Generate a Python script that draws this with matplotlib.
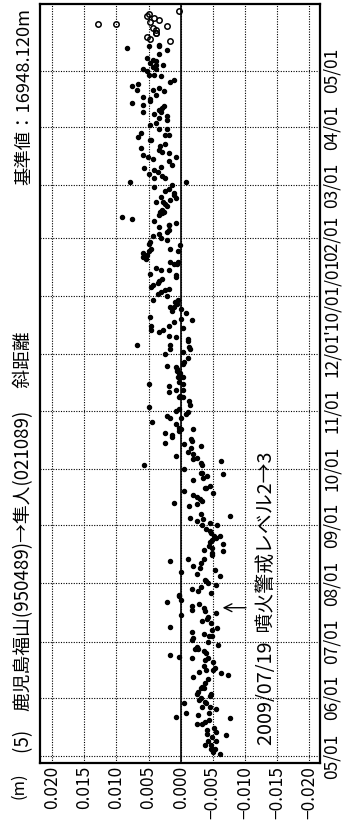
import numpy as np
import matplotlib
matplotlib.use('Agg')
import matplotlib.pyplot as plt

plt.rcParams['font.family'] = ['Noto Sans CJK JP', 'DejaVu Sans']

# daily solutions: days since 2009-05-01, baseline change in mm
days = [1, 2, 4, 4, 6, 6, 8, 8, 10, 12, 13, 11, 15, 14, 17, 17, 18, 19, 22, 23,
        25, 20, 23, 21, 28, 30, 31, 33, 34, 32, 33, 29, 28, 26, 26, 36, 36, 37, 39, 41,
        42, 45, 46, 46, 47, 50, 44, 43, 48, 52, 51, 52, 53, 54, 57, 57, 56, 55, 58, 62,
        63, 61, 64, 59, 67, 65, 64, 66, 68, 69,
        71, 72, 73, 74, 75, 76, 77, 78, 79, 80, 81, 82, 83, 85, 86, 87, 88, 89, 90, 91,
        92, 93, 94, 96, 97, 98, 99, 100, 101, 103, 104, 105, 105, 107, 108, 109, 110, 111, 112, 113,
        114, 115, 116, 117, 117, 119, 120, 121, 123, 123, 124, 125, 126, 127, 128, 129, 133, 134, 135, 136,
        137, 138, 139, 140, 141, 143, 143, 144, 147, 148, 149, 150, 151, 151, 153, 155, 155, 156, 157, 158,
        159, 160, 161, 162, 164, 165, 166, 167, 168, 169, 170, 171, 172, 173, 174, 174, 175, 177, 178, 180,
        180, 181, 182, 183, 184, 185, 186, 187, 189, 191, 191, 192, 194, 195, 195, 197, 198, 198, 199, 202,
        202, 202,
        204, 204, 205, 206, 207, 208, 209, 210, 212, 214, 215, 217, 217, 218, 219, 219, 221, 222, 223, 224,
        226, 227, 227, 228, 229, 229, 231, 232, 233, 234, 236, 237, 238, 239, 239, 241, 242, 243, 243, 245,
        246, 247, 248, 249, 250, 251, 252, 253, 254, 255, 256, 257, 259, 259, 260, 262, 262, 263, 263, 265,
        266, 267, 268, 269, 269,
        270, 270, 272, 273, 274, 275, 276, 277, 278, 279, 280, 282, 283, 283, 284, 285, 286, 287, 288, 289,
        290, 290, 291, 293, 294, 295, 295, 296, 297, 298, 299, 300, 301, 302, 303, 304, 306, 306, 308, 308,
        309, 310, 311, 312, 313, 314, 315, 317, 318, 319, 319, 320, 321, 322, 323, 324, 325, 326, 328, 328,
        330, 331, 331, 332, 334, 334, 336,
        337, 339, 340, 341, 342, 343, 343, 344, 345, 346, 347, 348, 349, 350, 351, 352, 354, 355, 355, 356,
        357, 358, 359, 360, 362, 363, 363, 365, 366, 366, 367, 368, 368, 369, 370, 371, 372, 374, 376, 377,
        378, 378, 379]
disp_mm = [-6.1, -5.1, -4.7, -5.3, -3.8, -4.7, -5.5, -4.3, -4.9, -4.1, -5.5, -7.1, -5.2, -4.1, -2.5, -3.3, -3.8, -4.4, -2.7, -4.4,
           -5.5, -7.7, -0.8, 0.7, -0.6, -2.9, -3.2, -2.6, -2.7, -4.6, -4.8, -3.8, -3.9, -3.4, -4.5, -3.1, -3.7, -3.4, -3.8, -4.3,
           -1.9, -2.8, -3.9, -5.0, -5.3, -5.1, -6.3, -7.4, -3.7, -4.2, -3.8, -1.7, 0.2, 1.7, -2.3, -2.7, -3.7, -4.0, -2.5, -1.8,
           -2.0, -4.2, -4.9, -5.8, -4.9, -3.7, -4.4, -1.7, -5.7, 1.6,
           -4.7, -3.4, -4.1, -4.3, 0.0, -5.5, -3.8, -1.7, -3.7, -1.7, -2.8, 2.1, 0.0, 0.2, 0.3, -4.7, -2.7, -1.7, -3.1, -5.5,
           -4.3, -3.9, -3.8, -6.1, -2.5, 0.0, -5.3, -3.0, -1.9, -3.2, 1.7, -3.6, -1.1, -4.9, -4.9, -6.6, -3.6, -4.9, -4.4, -6.6,
           -4.5, -4.9, -5.5, -5.2, -6.1, -4.8, -4.5, -3.9, -5.7, -3.3, -4.5, -2.5, -3.5, -1.4, -7.7, -3.1, -1.3, -2.5, 1.1, -3.4,
           -3.0, -2.5, -1.9, -5.0, -0.6, -3.8, -3.9, -4.5, -2.0, -3.5, -4.1, -6.6, -3.1, -3.3, -0.6, -3.3, 5.7, -3.1, -6.3, -1.9,
           -2.5, 0.8, -2.0, -1.2, -1.6, -3.1, -0.6, 2.4, -1.7, -1.6, 1.3, 1.3, 2.5, 0.2, 0.0, -1.9, 0.3, 0.8, 4.4, 0.0,
           1.6, 2.2, -0.8, -1.1, 0.8, 0.3, 4.9, -1.4, -1.3, 0.3, -0.3, 0.1, 1.8, 0.8, -0.3, 1.8, -0.3, 4.9, 0.2, 0.0,
           0.4, -0.4,
           0.3, 0.1, 0.5, 0.6, 0.8, 2.1, -0.3, -0.5, -1.2, 2.5, -0.3, -1.4, 1.6, -1.3, 6.8, 1.7, -1.2, -1.2, 0.8, 1.8,
           3.3, 4.6, 2.7, -0.3, 1.8, 4.6, 1.1, -1.7, 0.0, 4.8, -0.9, 1.3, 0.0, 1.1, 1.7, 0.6, 0.9, 4.3, 0.4, 2.2,
           3.6, 3.0, 2.5, 1.8, 4.6, 4.3, 3.6, 3.4, 2.9, 0.8, 0.8, 4.8, 3.0, 1.8, 3.8, 1.1, 0.6, 1.6, 0.4, 5.4,
           5.9, 5.3, 5.8, 4.9, 0.4,
           4.6, 1.6, 0.1, 5.0, 4.8, 2.1, 3.0, 4.3, 3.4, 2.1, 1.8, 3.3, 1.8, 1.8, 0.8, 4.1, 7.6, 9.2, 3.3, 2.9,
           3.2, 2.6, 2.9, 2.1, 2.5, 3.8, 2.7, 1.6, 0.8, 3.0, 1.1, 1.1, 2.4, 1.8, 4.1, 1.3, -0.8, 7.9, 4.1, 2.5,
           2.9, 5.0, 3.5, 4.1, 5.7, 3.0, 1.3, 1.8, 4.3, 5.1, 0.8, 5.9, 1.8, 2.9, 3.4, 6.2, 3.2, 2.5, 4.8, 4.6,
           6.7, 2.4, 1.8, 6.2, 3.3, 2.1, 4.8,
           3.8, 2.1, 3.4, 2.1, 4.1, 5.8, 3.0, 3.4, 2.9, 2.6, 5.9, 7.6, 4.7, 4.7, 5.8, 3.8, 2.6, 6.8, 4.3, 3.3,
           7.6, 6.6, 1.7, 1.1, 3.0, 4.9, 4.1, 5.2, 3.8, 5.9, 4.3, 2.7, 3.8, 4.7, 3.8, 4.3, 5.2, 3.4, 2.1, 8.4,
           3.4, 5.0, 3.3]

# quick solutions (open circles)
days_q = [381, 382, 383, 385, 385, 387, 388, 389, 390, 390, 391, 392, 393, 394, 395, 397]
disp_q_mm = [1.6, 4.8, 5.3, 3.8, 3.9, 3.8, 4.3, 2.1, 10.0, 12.9, 4.8, 3.4, 4.1, 5.3, 5.0, 0.3]

val_ticks = [0.020, 0.015, 0.010, 0.005, 0.000, -0.005, -0.010, -0.015, -0.020]
val_labels = ['0.020', '0.015', '0.010', '0.005', '0.000',
              '\u22120.005', '\u22120.010', '\u22120.015', '\u22120.020']
month_ticks = ['2009-05-01', '2009-06-01', '2009-07-01', '2009-08-01', '2009-09-01',
               '2009-10-01', '2009-11-01', '2009-12-01', '2010-01-01', '2010-02-01',
               '2010-03-01', '2010-04-01', '2010-05-01']
month_labels = ['05/01', '06/01', '07/01', '08/01', '09/01', '10/01', '11/01',
                '12/01', "'10/01/01", '02/01', '03/01', '04/01', '05/01']

t0 = np.datetime64('2009-05-01')
dates = t0 + np.array(days).astype('timedelta64[D]')
dates_q = t0 + np.array(days_q).astype('timedelta64[D]')
disp = np.array(disp_mm) / 1000.0
disp_q = np.array(disp_q_mm) / 1000.0

fig = plt.figure(figsize=(3.43, 8.21), dpi=100)
ax = fig.add_axes([40 / 343, 1 - 763 / 821, 280 / 343, 759 / 821])

# chart is drawn turned on its side: value runs right-to-left, time bottom-to-top
ax.axvline(0, color='k', lw=1.2, zorder=2)
ax.plot(disp, dates, 'o', color='k', ms=2.9, zorder=3)
ax.plot(disp_q, dates_q, 'o', mfc='none', mec='k', ms=3.9, mew=1.1, zorder=3)

ax.set_xlim(0.0219, -0.0217)
ax.set_ylim(np.datetime64('2009-04-27T07'), np.datetime64('2010-06-05T14'))

ax.set_xticks(val_ticks)
ax.set_xticklabels(val_labels, rotation=90, fontsize=12.5)
ax.set_yticks([np.datetime64(d) for d in month_ticks])
ax.set_yticklabels(month_labels, rotation=90, va='center', fontsize=12.5)
ax.yaxis.tick_right()
ax.tick_params(length=0, pad=2)

ax.grid(True, color='k', lw=0.8, ls=(0, (1, 1.3)))
ax.set_axisbelow(True)
for s in ax.spines.values():
    s.set_linewidth(1.6)

# eruption alert level change
ev = np.datetime64('2009-07-19')
ax.annotate('', xy=(-0.0061, ev), xytext=(-0.0106, ev),
            arrowprops=dict(arrowstyle='->', lw=1.0, color='k', mutation_scale=14))
ax.text(-0.0133, np.datetime64('2009-05-07'), '2009/07/19  噴火警戒レベル2→3',
        rotation=90, ha='center', va='bottom', fontsize=14.3)

fig.text(19 / 343, 1 - 786 / 821, '(m)', rotation=90, ha='center', va='center', fontsize=12)
fig.text(24 / 343, 1 - 753 / 821, '(5)\u3000鹿児島福山(950489)→隼人(021089)\u3000 斜距離',
         rotation=90, ha='center', va='bottom', fontsize=13.5)
fig.text(24 / 343, 1 - 8 / 821, '基準値：16948.120m',
         rotation=90, ha='center', va='top', fontsize=13.2)

fig.savefig('out.png', dpi=100)
